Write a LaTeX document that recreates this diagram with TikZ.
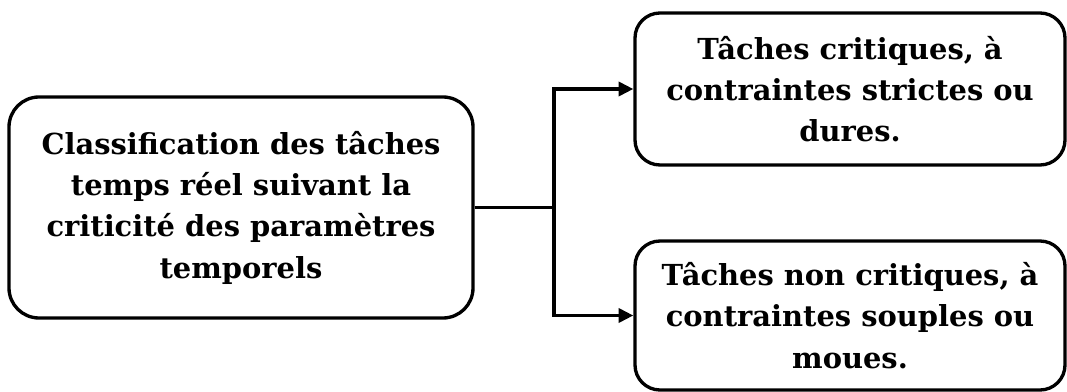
\documentclass[tikz,border=0pt]{standalone}
\usepackage{fontspec}
\setmainfont{DejaVu Serif}
\usetikzlibrary{arrows.meta}
\begin{document}
\begin{tikzpicture}[x=0.75pt,y=-0.75pt,
  box/.style={draw, line width=2.5pt, rounded corners=#1, align=center,
    inner sep=0pt, font=\fontsize{21.7pt}{31pt}\selectfont\bfseries},
  link/.style={line width=2.5pt},
  arrowlink/.style={link, -{Triangle[length=11pt,width=10.5pt]}}]
  \useasboundingbox (0,0) rectangle (1067,392);

  % root box on the left
  \node[box=22.5pt, minimum width=348pt, minimum height=165.75pt]
    (root) at (241,207.5)
    {Classification des tâches\\temps réel suivant la\\criticité des paramètres\\temporels};

  % the two classes on the right
  \node[box=18.75pt, minimum width=322.5pt, minimum height=114pt]
    (hard) at (850,89)
    {Tâches critiques, à\\contraintes strictes ou\\dures.};
  \node[box=18.75pt, minimum width=322.5pt, minimum height=111.75pt]
    (soft) at (850,315.5)
    {Tâches non critiques, à\\contraintes souples ou\\moues.};

  % branching connector
  \coordinate (fork) at (554,207.5);
  \draw[link] (root.east) -- (fork);
  \draw[arrowlink] (fork) |- (hard.west);
  \draw[arrowlink] (fork) |- (soft.west);
\end{tikzpicture}
\end{document}
